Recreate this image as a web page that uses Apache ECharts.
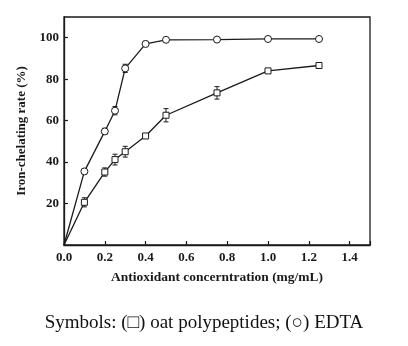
<!DOCTYPE html>
<html>
<head>
<meta charset="utf-8">
<script src="https://cdn.jsdelivr.net/npm/echarts@6/dist/echarts.min.js"></script>
<style>
  html, body { margin: 0; padding: 0; background: #fff; }
  #chart { width: 408px; height: 346px; }
</style>
</head>
<body>
<div id="chart"></div>
<script>
// Concentrations (mg/mL)
const concentrations = [0, 0.1, 0.2, 0.25, 0.3, 0.4, 0.5, 0.75, 1.0, 1.25];
// EDTA chelating rate (%) and its error
const edtaRate = [0, 35.5, 54.8, 64.8, 85.2, 97.0, 99.0, 99.1, 99.4, 99.4];
const edtaErr  = [0, 1.2, 1.5, 2.0, 2.0, 1.3, 0.6, 0.6, 0.6, 0.6];
// Oat polypeptides chelating rate (%) and its error
const oatRate = [0, 20.6, 35.2, 41.2, 45.0, 52.6, 62.6, 73.4, 84.0, 86.6];
const oatErr  = [0, 2.2, 2.0, 2.6, 2.6, 0.6, 3.2, 3.0, 0.6, 0.6];
// Axis ticks
const xTicks = [0, 0.2, 0.4, 0.6, 0.8, 1.0, 1.2, 1.4];
const yTicks = [20, 40, 60, 80, 100];

const ink = '#1a1a1a';
const serif = '"Liberation Serif", "Times New Roman", serif';

function pairs(xs, ys) { return xs.map((x, i) => [x, ys[i]]); }
function errData(xs, ys, es) {
  return xs.map((x, i) => [x, ys[i] - es[i], ys[i] + es[i]]).filter((d, i) => es[i] > 0);
}
function errorBars(data) {
  return {
    type: 'custom',
    data: data,
    z: 1,
    silent: true,
    renderItem: function (params, api) {
      const x = api.value(0);
      const lo = api.coord([x, api.value(1)]);
      const hi = api.coord([x, api.value(2)]);
      const w = 2.5;
      const style = { stroke: ink, lineWidth: 1 };
      return {
        type: 'group',
        children: [
          { type: 'line', shape: { x1: lo[0], y1: lo[1], x2: hi[0], y2: hi[1] }, style: style },
          { type: 'line', shape: { x1: lo[0] - w, y1: lo[1], x2: lo[0] + w, y2: lo[1] }, style: style },
          { type: 'line', shape: { x1: hi[0] - w, y1: hi[1], x2: hi[0] + w, y2: hi[1] }, style: style }
        ]
      };
    }
  };
}
function lineSeries(name, data, symbol) {
  return {
    name: name,
    type: 'line',
    data: data,
    z: 3,
    symbol: function (v) { return v[0] === 0 ? 'none' : symbol; },
    symbolSize: symbol === 'rect' ? 6 : 7,
    itemStyle: { color: '#fff', borderColor: ink, borderWidth: 1 },
    lineStyle: { color: ink, width: 1.3 },
    emphasis: { disabled: true }
  };
}

const chart = echarts.init(document.getElementById('chart'));
chart.setOption({
  animation: false,
  backgroundColor: '#fff',
  grid: {
    left: 64, right: 38, top: 17, bottom: 101,
    show: true, borderColor: ink, borderWidth: 1.3, backgroundColor: 'transparent'
  },
  xAxis: {
    type: 'value',
    min: 0, max: 1.5, interval: 0.2,
    name: 'Antioxidant concerntration (mg/mL)',
    nameLocation: 'middle',
    nameGap: 26,
    nameTextStyle: { fontFamily: serif, fontWeight: 'bold', fontSize: 13.5, color: ink },
    axisLine: { lineStyle: { color: ink, width: 1.3 } },
    axisTick: { inside: true, length: 4, lineStyle: { color: ink, width: 1.2 } },
    axisLabel: {
      margin: 6, fontFamily: serif, fontWeight: 'bold', fontSize: 13, color: ink,
      customValues: xTicks,
      formatter: v => v.toFixed(1)
    },
    splitLine: { show: false }
  },
  yAxis: {
    type: 'value',
    min: 0, max: 110, interval: 20,
    name: 'Iron-chelating rate (%)',
    nameLocation: 'middle',
    nameGap: 35,
    nameTextStyle: { fontFamily: serif, fontWeight: 'bold', fontSize: 13, color: ink },
    axisLine: { lineStyle: { color: ink, width: 1.3 } },
    axisTick: { inside: true, length: 4, customValues: yTicks, lineStyle: { color: ink, width: 1.2 } },
    axisLabel: {
      margin: 5, fontFamily: serif, fontWeight: 'bold', fontSize: 13, color: ink,
      customValues: yTicks
    },
    splitLine: { show: false }
  },
  graphic: [{
    type: 'text',
    left: 'center',
    top: 314,
    style: {
      text: 'Symbols: (\u25a1) oat polypeptides; (\u25cb) EDTA',
      fontFamily: serif, fontSize: 19, fill: '#111'
    }
  }],
  series: [
    errorBars(errData(concentrations, edtaRate, edtaErr)),
    errorBars(errData(concentrations, oatRate, oatErr)),
    lineSeries('EDTA', pairs(concentrations, edtaRate), 'circle'),
    lineSeries('oat polypeptides', pairs(concentrations, oatRate), 'rect')
  ]
});
</script>
</body>
</html>
